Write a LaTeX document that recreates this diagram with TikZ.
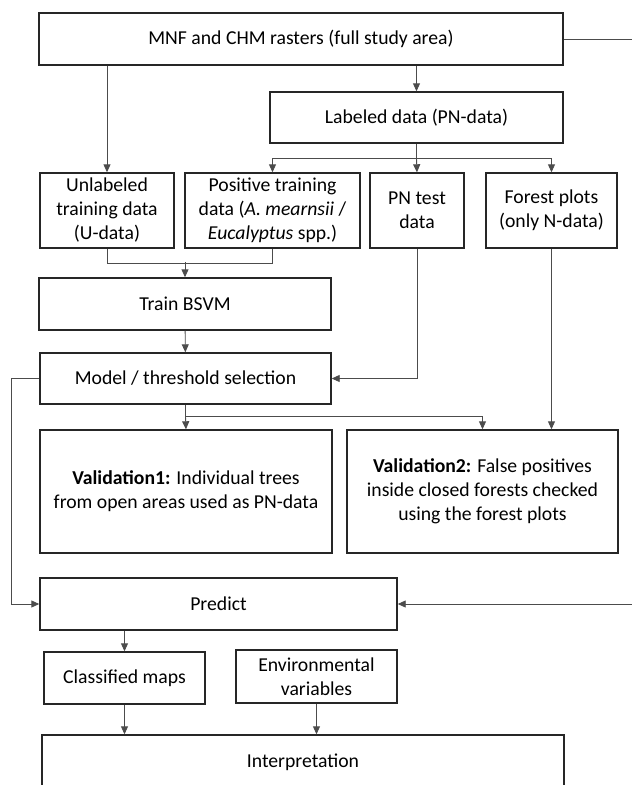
\documentclass[tikz,border=0pt]{standalone}
\usepackage{fontspec}
\setmainfont{Carlito}
\usepackage{tikz}
\usetikzlibrary{positioning, arrows.meta, calc}

\begin{document}
\begin{tikzpicture}[x=1pt, y=-1pt,
    font=\fontsize{19.7}{24}\selectfont,
    box/.style={draw=black!85, line width=1.4pt, align=center, inner sep=2pt},
    link/.style={draw=black!70, line width=0.9pt},
    arr/.style={link, -{Triangle[length=8pt,width=7pt]}}]
   \useasboundingbox (0,0) rectangle (632,785);

   \node[box,minimum width=524pt,minimum height=52pt] (mnf) at (301,39) {MNF and CHM rasters (full study area)};
   \node[box,minimum width=293pt,minimum height=51pt] (labeled) at (416.5,117.5) {Labeled data (PN-data)};
   \node[box,minimum width=134pt,minimum height=75pt] (unl) at (107,210.5) {Unlabeled\\training data\\(U-data)};
   \node[box,minimum width=175pt,minimum height=75pt] (pos) at (272.5,210.5) {Positive training\\data (\textit{A. mearnsii} /\\\textit{Eucalyptus} spp.)};
   \node[box,minimum width=94pt,minimum height=75pt] (pntest) at (417,210.5) {PN test\\data};
   \node[box,minimum width=131pt,minimum height=75pt] (forest) at (551.5,210.5) {Forest plots\\(only N-data)};
   \node[box,minimum width=292pt,minimum height=52pt] (train) at (185,304) {Train BSVM};
   \node[box,minimum width=291pt,minimum height=51pt] (model) at (185.5,378.5) {Model / threshold selection};
   \node[box,minimum width=292pt,minimum height=123pt] (val1) at (186,491.5) {\textbf{Validation1:} Individual trees\\from open areas used as PN-data};
   \node[box,minimum width=271pt,minimum height=123pt] (val2) at (482.5,491.5) {\textbf{Validation2:} False positives\\inside closed forests checked\\using the forest plots};
   \node[box,minimum width=357pt,minimum height=52pt] (predict) at (218.5,604) {Predict};
   \node[box,minimum width=161pt,minimum height=52pt] (classified) at (124.5,678) {Classified maps};
   \node[box,minimum width=161pt,minimum height=53pt] (env) at (316.5,676.5) {Environmental\\variables};
   \node[box,minimum width=522pt,minimum height=54pt] (interp) at (303,762) {Interpretation};

   % loops off the page on the right
   \coordinate (rside) at (645,39);

   \draw[arr] (labeled.north |- mnf.south) -- (labeled.north);
   \draw[arr] (unl.north |- mnf.south) -- (unl.north);
   \draw[link] (labeled.south) -- ++(0,15) coordinate (split);
   \draw[arr] (split) -| (pos.north);
   \draw[arr] (split) -| (forest.north);
   \draw[arr] (split) -- (pntest.north);
   \draw[link] (unl.south) -- ++(0,15) -| (pos.south);
   \draw[arr] (train.north) ++(0,-15) -- (train.north);
   \draw[arr] (train) -- (model);
   \draw[arr] (pntest.south) |- (model.east);
   \draw[link] (model.south) -- ++(0,12) coordinate (vsplit);
   \draw[arr] (vsplit) -- (val1.north);
   \draw[arr] (vsplit) -| (val2.north);
   \draw[arr] (forest.south) -- (forest.south |- val2.north);
   \draw[arr] (model.west) -- ++(-28,0) |- (predict.west);
   \draw[arr] (mnf.east) -- (rside) |- (predict.east);
   \draw[arr] (predict.south -| classified.north) -- (classified.north);
   \draw[arr] (classified) -- (classified |- interp.north);
   \draw[arr] (env) -- (env |- interp.north);
\end{tikzpicture}
\end{document}
